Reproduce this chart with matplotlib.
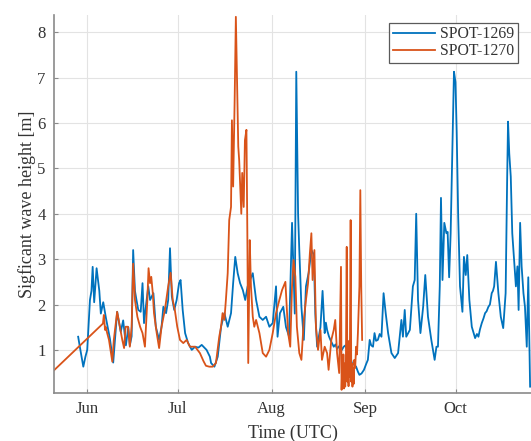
import numpy as np
import matplotlib
matplotlib.use("Agg")
import matplotlib.pyplot as plt
import matplotlib.dates as mdates

# days after 1 June
days_1269 = [-3.0, -2.4, -1.3, -0.6, 0.0, 0.9, 1.4, 1.8, 2.3, 3.1, 4.0, 4.5, 5.3, 6.2,
             7.5, 8.6, 9.9, 11.1, 11.9, 12.8, 13.6, 14.1, 14.7, 15.2, 15.8, 16.3, 16.9,
             17.7, 18.3, 18.8, 19.4, 20.2, 20.8, 21.9, 22.7, 23.8, 24.6, 25.2, 26.1,
             26.8, 27.4, 28.0, 28.8, 29.6, 30.4, 30.9, 31.6, 32.4, 33.4, 34.6, 35.7,
             36.8, 37.9, 39.5, 40.6, 41.0, 42.1, 43.2, 44.3, 45.4, 46.5, 47.6, 48.3,
             49.0, 49.8, 50.6, 51.5, 52.3, 53.1, 53.9, 54.8, 55.9, 57.0, 58.1, 59.2,
             60.3, 61.4, 62.5, 63.0, 63.8, 64.9, 65.8, 66.8, 67.8, 68.7, 69.2, 69.8,
             70.2, 70.9, 71.7, 72.4, 73.3, 74.2, 75.0, 75.5, 76.1, 77.2, 77.9, 78.6,
             79.0, 79.4, 80.0, 80.5, 81.0, 81.6, 82.2, 82.7, 83.2, 83.8, 84.3, 84.9,
             85.5, 86.0, 86.6, 87.1, 87.6, 88.3, 89.0, 89.6, 90.1, 90.8, 91.6, 92.4,
             92.9, 93.5, 94.0, 94.6, 95.1, 95.6, 96.2, 96.8, 97.4, 98.1, 98.8, 99.6,
             100.7, 101.8, 102.9, 104.0, 104.5, 105.1, 105.6, 106.8, 107.8, 108.4,
             108.9, 109.5, 110.3, 111.2, 111.9, 112.8, 113.9, 115.0, 115.6, 116.1,
             116.7, 117.1, 117.6, 118.2, 118.9, 119.3, 119.8, 120.3, 121.0, 121.4,
             121.9, 122.3, 122.8, 123.4, 124.2, 124.7, 125.3, 125.8, 126.5, 127.3,
             128.4, 129.0, 129.5, 130.0, 130.6, 131.2, 131.7, 132.2, 132.8, 133.3,
             133.9, 134.3, 134.7, 135.3, 136.1, 136.9,
             137.7, 138.5, 139.0, 139.3, 139.7, 140.2, 140.7, 141.3, 141.9, 142.4,
             142.8, 143.3, 143.8, 144.4, 144.9, 145.5, 146.0, 146.6]
hs_1269 = [1.29, 1.05, 0.63, 0.85, 1.0, 2.1, 2.3, 2.83, 2.05, 2.8, 2.3, 1.8, 2.05, 1.7,
           1.25, 0.72, 1.84, 1.4, 1.65, 1.1, 1.5, 1.1, 1.3, 3.2, 2.3, 2.1, 1.88,
           1.84, 2.47, 1.59, 1.95, 2.4, 2.1, 2.25, 1.51, 1.22, 1.51, 1.95, 1.81,
           2.1, 3.24, 2.18, 1.88, 2.1, 2.47, 2.54, 1.88, 1.37, 1.15, 1.0, 1.07,
           1.05, 1.11, 1.0, 0.85, 0.71, 0.63, 0.85, 1.51, 1.81, 1.51, 1.81, 2.47,
           3.05, 2.69, 2.47, 2.32, 2.1, 2.4, 2.54, 2.69, 2.1, 1.73, 1.66, 1.73,
           1.51, 1.59, 2.4, 1.29, 1.81, 1.95, 1.5, 1.3, 3.8, 1.8, 7.13, 4.0,
           3.2, 1.95, 1.22, 2.4, 2.7, 3.2, 3.1, 1.8, 1.07, 1.5, 2.3, 1.37,
           1.6, 1.44, 1.3, 1.22, 1.15, 1.07, 1.12, 1.02, 1.07, 1.1, 1.0, 1.07,
           1.1, 1.0, 1.04, 0.85, 0.71, 0.68, 0.63, 0.52, 0.45, 0.48, 0.56, 0.7,
           0.78, 1.22, 1.1, 1.07, 1.37, 1.2, 1.22, 1.35, 1.29, 2.25, 1.81, 1.37,
           0.93, 0.82, 0.93, 1.66, 1.29, 1.88, 1.29, 1.44, 2.4, 2.54,
           4.0, 2.1, 1.37, 1.95, 2.65, 1.73, 1.22, 0.78, 1.07, 1.07,
           2.4, 4.35, 2.54, 3.8, 3.57, 3.6, 2.6, 3.57, 5.8, 7.13,
           6.9, 5.8, 3.94, 2.4, 1.84, 3.05, 2.65, 3.09, 2.1, 1.51,
           1.26, 1.35, 1.29, 1.45, 1.59, 1.7, 1.81, 1.85, 1.95, 2.0,
           2.25, 2.3, 2.4, 2.94, 2.25, 1.73,
           1.48, 2.25, 4.74, 6.03, 5.33, 4.82, 3.57, 2.98, 2.4, 2.84,
           1.88, 3.8, 2.84, 2.25, 1.95, 1.07, 2.6, 0.19]

days_1270 = [-11.0, 5.2, 5.5, 5.9, 6.1, 6.6, 7.2, 8.3, 8.8, 9.9, 10.8, 11.6, 12.2, 12.7,
             13.5, 14.1, 14.7, 15.2, 15.8, 16.6, 17.5, 18.3, 19.1, 19.9, 20.3, 20.8,
             21.2, 21.7, 22.1, 23.0, 23.8, 24.6, 25.7, 26.8, 27.6, 28.3, 29.0, 29.8,
             30.7, 31.8, 32.9, 34.0, 35.7, 37.3, 38.5, 39.3, 40.4, 41.5, 42.6, 43.7,
             44.3, 44.8, 45.4, 45.9, 46.5, 47.0, 47.6, 47.9, 48.3, 48.8, 49.2, 49.7,
             50.0, 50.3, 50.7, 51.0, 51.3, 51.8, 52.2, 52.7, 53.0, 53.3, 53.8, 54.2,
             54.8, 55.3, 55.9, 57.0, 58.1, 59.2, 60.3, 61.4, 62.5, 63.6, 64.5, 65.6,
             66.5, 67.2, 67.8, 68.3, 68.9, 69.4, 70.2, 70.9, 71.7, 72.4, 73.1, 73.7,
             74.2, 74.6, 75.2, 75.7, 76.4, 77.2, 77.7, 78.6, 79.4, 79.9, 80.8, 81.6,
             82.1, 82.7, 83.4, 84.0, 84.2, 84.4, 84.6, 84.8, 85.0, 85.2, 85.4, 85.6,
             85.9, 86.1, 86.3, 86.5, 86.7, 86.9, 87.2, 87.4, 87.6, 87.8, 88.0, 88.2,
             88.4, 88.7, 89.0, 89.3, 89.6, 90.1, 90.4, 90.7, 91.0]
hs_1270 = [0.55, 1.58, 1.77, 1.44, 1.51, 1.37, 1.22, 0.74, 1.22, 1.84, 1.51, 1.22, 1.04, 1.51,
           1.51, 1.07, 1.51, 2.9, 2.1, 1.73, 1.51, 1.37, 1.07, 2.1, 2.8, 2.47,
           2.61, 2.25, 1.81, 1.37, 1.04, 1.51, 1.88, 2.4, 2.7, 2.1, 1.88, 1.51,
           1.22, 1.15, 1.22, 1.07, 1.07, 0.93, 0.75, 0.65, 0.63, 0.63, 0.71, 1.29,
           1.51, 1.81, 1.66, 2.1, 2.69, 3.86, 4.15, 6.06, 4.6, 6.5, 8.34, 6.5,
           5.48, 5.18, 4.52, 4.0, 4.9, 4.15, 5.62, 5.85, 3.57, 0.71, 3.42, 2.4,
           1.73, 1.51, 1.66, 1.37, 0.93, 0.85, 1.0, 1.37, 1.81, 2.1, 2.32, 2.5,
           1.37, 1.07, 2.4, 2.98, 2.61, 1.51, 0.93, 0.78, 1.66, 2.1, 2.47, 3.13,
           3.57, 2.54, 3.2, 1.51, 1.0, 1.44, 0.78, 1.07, 0.93, 0.56, 1.22, 1.44,
           1.66, 0.93, 0.49, 2.83, 0.12, 0.6, 0.2, 0.9, 0.15, 0.7, 0.19, 0.5,
           3.27, 0.3, 0.8, 0.2, 1.2, 0.4, 3.86, 0.3, 0.7, 0.19, 0.6, 0.25,
           0.78, 0.6, 1.07, 0.9, 1.37, 2.4, 4.52, 2.4, 1.22]

labels = ["SPOT-1269", "SPOT-1270"]
colors = ["#0072BD", "#D95319"]

base = np.datetime64("2021-06-01T00:00")


def to_time(days):
    minutes = np.round(np.array(days) * 24 * 60).astype(int)
    return base + minutes.astype("timedelta64[m]")


plt.rcParams["font.family"] = ["Liberation Serif", "DejaVu Serif"]
text_color = "#333333"

fig = plt.figure(figsize=(5.31, 4.41), dpi=100)
ax = fig.add_axes([54 / 531, 48 / 441, 477 / 531, 378 / 441])

ax.plot(to_time(days_1269), hs_1269, color=colors[0], lw=1.3, label=labels[0])
ax.plot(to_time(days_1270), hs_1270, color=colors[1], lw=1.3, label=labels[1])

ax.set_xlim(to_time([-11.0])[0], to_time([146.9])[0])
ax.set_ylim(0.05, 8.38)
ax.set_yticks(range(1, 9))

ax.xaxis.set_major_locator(mdates.MonthLocator())
ax.xaxis.set_major_formatter(mdates.DateFormatter("%b"))

ax.grid(True, color="#e3e3e3", lw=0.8)
ax.set_axisbelow(True)

for side in ["top", "right"]:
    ax.spines[side].set_visible(False)
for side in ["left", "bottom"]:
    ax.spines[side].set_color("#8a8a8a")
    ax.spines[side].set_linewidth(1.2)

ax.tick_params(direction="in", length=3, color="#8a8a8a", labelsize=12,
               labelcolor=text_color, pad=6)

ax.set_xlabel("Time (UTC)", fontsize=13, color=text_color, labelpad=5)
ax.set_ylabel("Sigficant wave height [m]", fontsize=13, color=text_color, labelpad=1)

leg = ax.legend(loc="upper right", bbox_to_anchor=(0.973, 0.98), borderaxespad=0,
                fontsize=11.3, handlelength=2.7, handletextpad=0.3, labelspacing=0.05,
                borderpad=0.25, fancybox=False, framealpha=1)
leg.get_frame().set_edgecolor("#5a5a5a")
leg.get_frame().set_linewidth(0.9)
for t in leg.get_texts():
    t.set_color(text_color)

plt.savefig("out.png", dpi=100)
plt.close()
